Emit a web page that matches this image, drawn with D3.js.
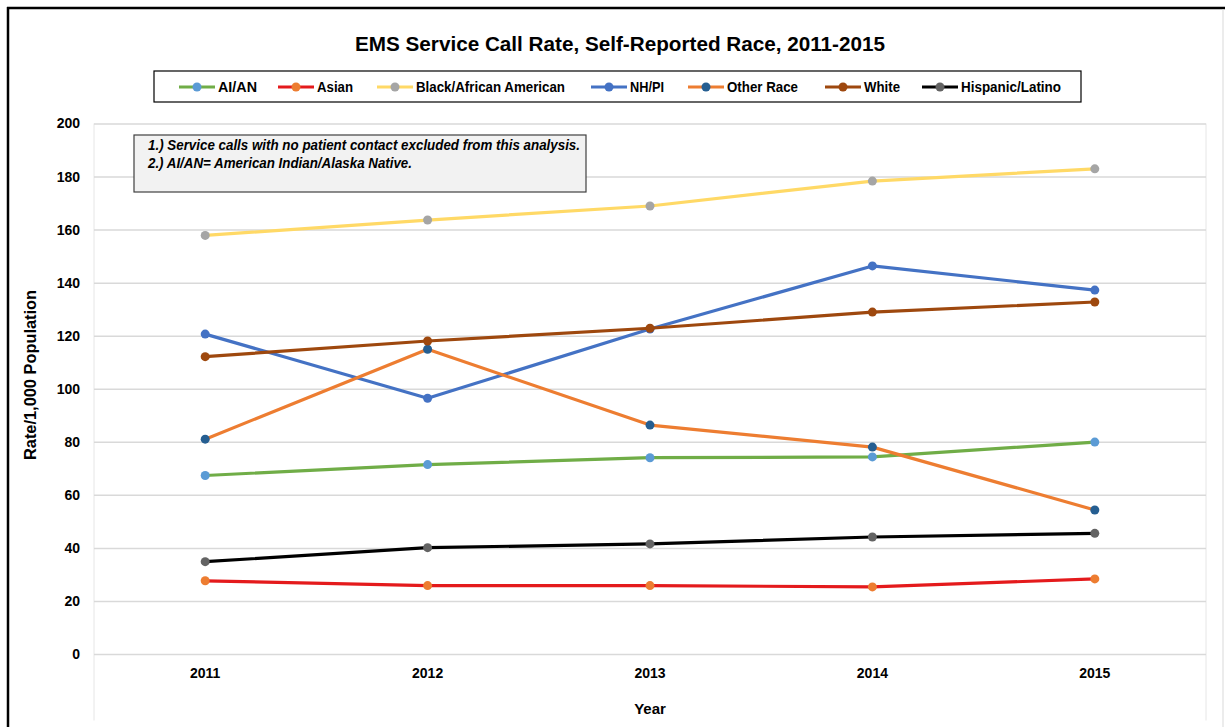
<!DOCTYPE html>
<html>
<head>
<meta charset="utf-8">
<script src="https://cdn.jsdelivr.net/npm/d3@7"></script>
<style>
  body { margin: 0; background: #fff; }
  text { font-family: "Liberation Sans Narrow", "Arial Narrow", "Liberation Sans", Arial, sans-serif; font-weight: bold; }
</style>
</head>
<body>
<div class="chart"></div>
<script>
var years = ["2011", "2012", "2013", "2014", "2015"];
var yTicks = [0, 20, 40, 60, 80, 100, 120, 140, 160, 180, 200];

var seriesNames = ["AI/AN", "Asian", "Black/African American", "NH/PI", "Other Race", "White", "Hispanic/Latino"];
var aian     = [67.3, 71.4, 74.0, 74.3, 79.9];
var asian    = [27.6, 25.8, 25.8, 25.3, 28.3];
var black    = [157.8, 163.6, 168.9, 178.3, 182.9];
var nhpi     = [120.6, 96.4, 122.5, 146.3, 137.2];
var other    = [81.0, 114.9, 86.3, 78.0, 54.3];
var white    = [112.1, 118.0, 122.8, 128.9, 132.7];
var hispanic = [34.8, 40.1, 41.5, 44.1, 45.5];

var lineColors   = ["#70AD47", "#E41A1C", "#FFD966", "#4472C4", "#ED7D31", "#9E480E", "#000000"];
var markerColors = ["#5B9BD5", "#ED7D31", "#A5A5A5", "#4472C4", "#255E91", "#9E480E", "#636363"];
var legendX = [179, 278, 377, 591, 688, 825, 922];
var legendTextW = [39, 36, 149, 34, 71, 36, 100];

var series = [aian, asian, black, nhpi, other, white, hispanic].map(function (vals, i) {
  return { name: seriesNames[i], values: vals, line: lineColors[i], marker: markerColors[i], tw: legendTextW[i] };
});

var svgWidth = 1225;
var svgHeight = 727;
var margin = { top: 123.5, right: 19, bottom: 73, left: 94 };
var width = svgWidth - margin.left - margin.right;
var height = 654 - margin.top;

var svg = d3.select(".chart")
  .append("svg")
  .attr("width", svgWidth)
  .attr("height", svgHeight);

// outer frame
svg.append("line").attr("x1", 7).attr("x2", 1225).attr("y1", 8).attr("y2", 8)
  .attr("stroke", "#000").attr("stroke-width", 2.5);
svg.append("line").attr("x1", 8).attr("x2", 8).attr("y1", 7).attr("y2", 727)
  .attr("stroke", "#000").attr("stroke-width", 2.5);
svg.append("line").attr("x1", 1223).attr("x2", 1223).attr("y1", 9).attr("y2", 727)
  .attr("stroke", "#d9d9d9").attr("stroke-width", 1);

var chartGroup = svg.append("g")
  .attr("transform", `translate(${margin.left}, ${margin.top})`);

var xScale = d3.scaleBand().domain(years).range([0, width]);
var yScale = d3.scaleLinear().domain([0, 200]).range([height, 0]);

// faint plot edges
chartGroup.append("line").attr("x1", 0).attr("x2", 0).attr("y1", 0).attr("y2", 597)
  .attr("stroke", "#e6e6e6");
chartGroup.append("line").attr("x1", width).attr("x2", width).attr("y1", 0).attr("y2", 597)
  .attr("stroke", "#e6e6e6");

// gridlines
var leftAxis = d3.axisLeft(yScale).tickValues(yTicks).tickSize(-width).tickPadding(14);
var yAxisG = chartGroup.append("g").call(leftAxis);
yAxisG.select(".domain").remove();
yAxisG.selectAll(".tick line").attr("stroke", "#d9d9d9").attr("stroke-width", 1.5);
yAxisG.selectAll(".tick text").attr("font-size", 14).attr("fill", "#000")
  .style("font-family", "\"Liberation Sans Narrow\", Arial, sans-serif");

var bottomAxis = d3.axisBottom(xScale).tickSize(0).tickPadding(14);
var xAxisG = chartGroup.append("g").attr("transform", `translate(0, ${height})`).call(bottomAxis);
xAxisG.select(".domain").remove();
xAxisG.selectAll(".tick text").attr("font-size", 14).attr("fill", "#000")
  .style("font-family", "\"Liberation Sans Narrow\", Arial, sans-serif");

// annotation box
svg.append("rect").attr("x", 134).attr("y", 135).attr("width", 452).attr("height", 57)
  .attr("fill", "#F2F2F2").attr("stroke", "#404040").attr("stroke-width", 1.2);
svg.append("text").attr("x", 148).attr("y", 150).attr("font-size", 14).attr("font-style", "italic")
  .attr("textLength", 432).attr("lengthAdjust", "spacingAndGlyphs")
  .text("1.) Service calls with no patient contact excluded from this analysis.");
svg.append("text").attr("x", 148).attr("y", 168).attr("font-size", 14).attr("font-style", "italic")
  .attr("textLength", 264).attr("lengthAdjust", "spacingAndGlyphs")
  .text("2.) AI/AN= American Indian/Alaska Native.");

// lines and markers
var line = d3.line()
  .x(function (d, i) { return xScale(years[i]) + xScale.bandwidth() / 2; })
  .y(function (d) { return yScale(d); });

series.forEach(function (s) {
  chartGroup.append("path")
    .datum(s.values)
    .attr("fill", "none")
    .attr("stroke", s.line)
    .attr("stroke-width", 3.2)
    .attr("stroke-linejoin", "round")
    .attr("d", line);
  chartGroup.selectAll(null)
    .data(s.values)
    .enter()
    .append("circle")
    .attr("cx", function (d, i) { return xScale(years[i]) + xScale.bandwidth() / 2; })
    .attr("cy", function (d) { return yScale(d); })
    .attr("r", 4.5)
    .attr("fill", s.marker);
});

// title
svg.append("text").attr("x", 620).attr("y", 51).attr("text-anchor", "middle")
  .attr("font-size", 21).attr("textLength", 530).attr("lengthAdjust", "spacingAndGlyphs")
  .text("EMS Service Call Rate, Self-Reported Race, 2011-2015");

// legend
svg.append("rect").attr("x", 154).attr("y", 71).attr("width", 927).attr("height", 31)
  .attr("fill", "#fff").attr("stroke", "#000").attr("stroke-width", 1.2);
var legend = svg.selectAll(".legend-item").data(series).enter().append("g")
  .attr("class", "legend-item")
  .attr("transform", function (d, i) { return `translate(${legendX[i]}, 87)`; });
legend.append("line").attr("x1", 0).attr("x2", 36).attr("y1", 0).attr("y2", 0)
  .attr("stroke", function (d) { return d.line; }).attr("stroke-width", 3.2);
legend.append("circle").attr("cx", 18).attr("cy", 0).attr("r", 4.5)
  .attr("fill", function (d) { return d.marker; });
legend.append("text").attr("x", 39).attr("y", 5).attr("font-size", 14)
  .attr("textLength", function (d) { return d.tw; }).attr("lengthAdjust", "spacingAndGlyphs")
  .text(function (d) { return d.name; });

// axis titles
svg.append("text").attr("transform", "translate(36, 375) rotate(-90)")
  .attr("text-anchor", "middle").attr("font-size", 16)
  .attr("textLength", 170).attr("lengthAdjust", "spacingAndGlyphs")
  .text("Rate/1,000 Population");
svg.append("text").attr("x", 650).attr("y", 714).attr("text-anchor", "middle")
  .attr("font-size", 15).text("Year");
</script>
</body>
</html>
